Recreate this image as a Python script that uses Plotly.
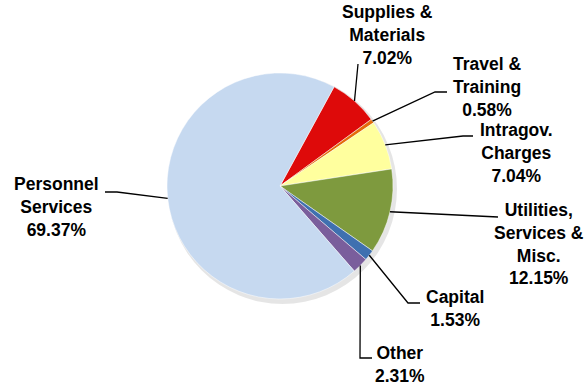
import math
import plotly.graph_objects as go

# ---- data ----
categories = ["Supplies &<br>Materials", "Travel &<br>Training", "Intragov.<br>Charges",
              "Utilities,<br>Services &<br>Misc.", "Capital", "Other", "Personnel<br>Services"]
values = [7.02, 0.58, 7.04, 12.15, 1.53, 2.31, 69.37]
colors = ["#DE0A0A", "#E46C0A", "#FFFF9E", "#7E9A3E", "#3F70B0", "#7A5E9C", "#C6D9F0"]

# ---- layout ----
W, H = 587, 387
CX, CY, R = 280, 186, 113          # pie centre / radius in px
ROTATION = 28.6

# label centres (px) and leader elbow / end points (px)
label_pos = [(387, 35), (487, 86.5), (516, 152.5), (539, 244), (455, 308), (400, 364), (56, 206.5)]
elbows = [(358, 64), (435, 92), (463, 136), (498, 217), (408, 303), (360, 358), (117, 192)]
ends = [(358, 64), (447, 92), (473, 136), (498, 217), (420, 303), (372, 358), (105, 192)]


def px(x, y):
    return x / W, 1 - y / H


fig = go.Figure()
fig.add_trace(go.Pie(
    labels=categories, values=values, sort=False, direction="clockwise",
    rotation=ROTATION, textinfo="none", hoverinfo="label+percent",
    marker=dict(colors=colors, line=dict(color="rgba(255,255,255,0.6)", width=0.8)),
    domain=dict(x=[(CX - R) / W, (CX + R) / W], y=[1 - (CY + R) / H, 1 - (CY - R) / H]),
    showlegend=False,
))

# shadow
fig.add_shape(type="circle", xref="paper", yref="paper", layer="below",
              x0=(CX - R + 1) / W, x1=(CX + R + 4) / W,
              y0=1 - (CY + R + 5) / H, y1=1 - (CY - R + 1) / H,
              fillcolor="rgba(0,0,0,0.10)", line=dict(width=0))

total = sum(values)
cum = 0
for i, (cat, v) in enumerate(zip(categories, values)):
    mid = ROTATION + (cum + v / 2) / total * 360
    cum += v
    a = math.radians(mid)
    sx, sy = CX + R * math.sin(a), CY - R * math.cos(a)
    pts = [(sx, sy), elbows[i], ends[i]]
    path = "M " + " L ".join(f"{px(x, y)[0]},{px(x, y)[1]}" for x, y in pts)
    fig.add_shape(type="path", xref="paper", yref="paper", path=path,
                  line=dict(color="black", width=1.3))
    lx, ly = px(*label_pos[i])
    fig.add_annotation(x=lx, y=ly, xref="paper", yref="paper", showarrow=False,
                       xanchor="center", yanchor="middle", align="center",
                       text=f"<b>{cat}<br>{v:.2f}%</b>",
                       font=dict(family="Arial, Liberation Sans, sans-serif", size=17.5, color="black"))

fig.update_layout(width=W, height=H, margin=dict(l=0, r=0, t=0, b=0),
                  paper_bgcolor="white", plot_bgcolor="white")
fig.write_html("out.html", config={"displayModeBar": False},
               post_script="document.body.style.margin='0';")
